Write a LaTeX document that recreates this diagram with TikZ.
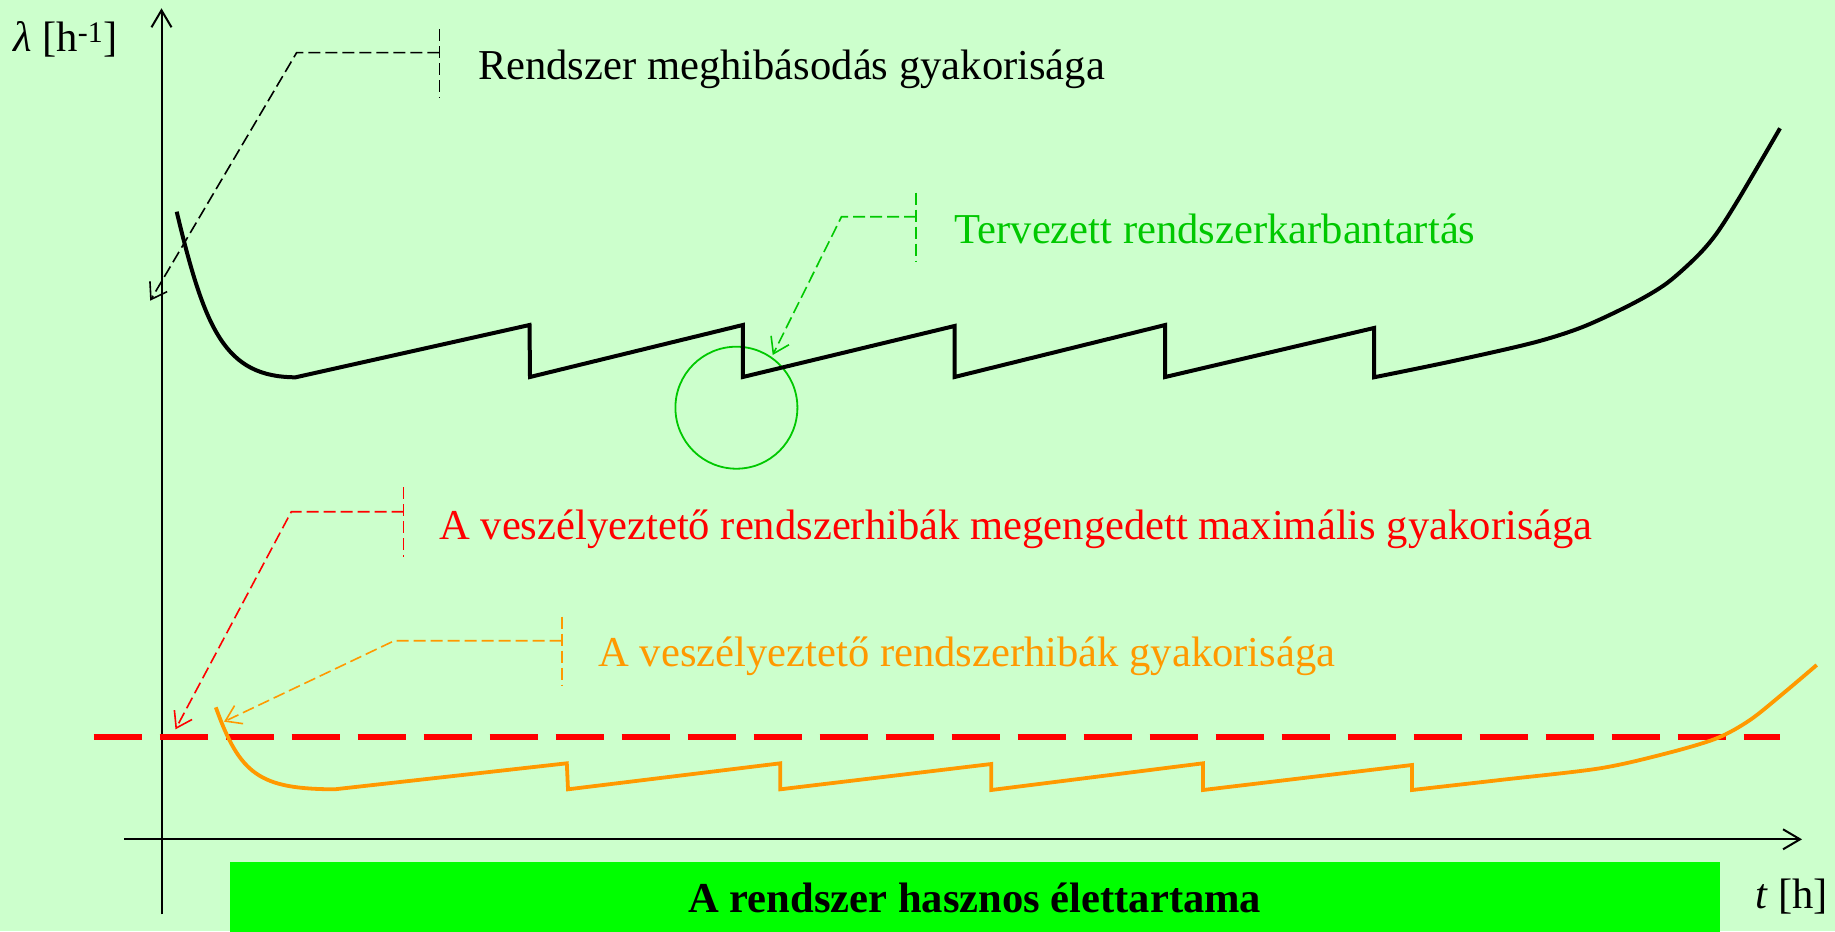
\documentclass[tikz,border=0pt]{standalone}
\usepackage{fontspec}
\setmainfont{Liberation Serif}
\usetikzlibrary{arrows.meta}
\definecolor{bgc}{HTML}{CCFFCC}
\definecolor{boxc}{HTML}{00FF00}
\definecolor{gc}{HTML}{00C800}
\definecolor{oc}{HTML}{FF9900}
\definecolor{rc}{HTML}{FF0000}
\begin{document}
\begin{tikzpicture}[x=1pt,y=-1pt,
  every node/.style={inner sep=0pt, outer sep=0pt, font=\fontsize{42.6}{51}\selectfont},
  lbl/.style={anchor=base west},
  leader/.style={line width=1.6pt, dash pattern=on 12pt off 5pt, line cap=butt},
  leadarrow/.style={leader, -{Straight Barb[length=15pt,width=20pt]}},
  axis/.style={line width=2pt, -{Straight Barb[length=17pt,width=20pt]}},
  blackc/.style={line width=4pt, line join=miter},
  orangec/.style={draw=oc, line width=3.8pt, line join=miter},
  redline/.style={draw=rc, line width=6pt, dash pattern=on 48pt off 18pt, line cap=butt}
]
\fill[bgc] (0,0) rectangle (1835,931);
\useasboundingbox (0,0) rectangle (1835,931);

% axes
\coordinate (yb) at (161.5,914.3);
\coordinate (yt) at (161.5,8.3);
\coordinate (xl) at (124.4,839.3);
\coordinate (xr) at (1802,839.3);
\draw[axis] (yb) -- (yt);
\draw[axis] (xl) -- (xr);
\node[lbl] (ylab) at (13.4,52) {{\itshape λ} [h\textsuperscript{-1}]};
\node[lbl] (xlab) at (1755,908) {\textit{t} [h]};

% lifetime box
\node[fill=boxc, minimum width=1490.4pt, minimum height=70pt, anchor=north west] (life) at (229.6,861.7) {};
\node[anchor=base] (lifet) at (974.8,912.7) {\textbf{A rendszer hasznos élettartama}};

% maintenance circle
\node[circle, draw=gc, line width=1.8pt, minimum size=122pt] (circ) at (736.4,407.7) {};

% black curve
\draw[blackc] (176.7,211.7) .. controls (205,330) and (225,377) .. (295.6,377.3)
  -- (529.5,325) -- (530,377) -- (742.8,325) -- (742.8,377)
  -- (954.5,326) -- (954.5,377) -- (1165.2,325) -- (1165.2,377)
  -- (1374,328) -- plot[smooth] coordinates {(1374,377.3) (1450,361.7) (1533.3,342.7) (1583.3,326.7) (1633.3,303.3) (1666.7,283.3) (1696.7,256.7) (1716.7,233.3) (1740,196.7) (1780,128.3)};

% red dashed limit
\coordinate (rl) at (93.6,736.7);
\coordinate (rr) at (1779.7,736.7);
\draw[redline] (rl) -- (rr);

% orange curve
\draw[orangec] (215.8,707.3) .. controls (240,775) and (260,789) .. (334.7,789.3)
  -- (566.8,763.3) -- (568,789.3) -- (780.3,763.3) -- (780.3,789.3)
  -- (991.3,764) -- (991.3,790) -- (1203,763.3) -- (1203,790)
  -- (1412,765) -- plot[smooth] coordinates {(1412,790) (1500,780) (1600,768.3) (1666.7,753.3) (1716.7,738.3) (1750,720) (1783.3,693.3) (1816.7,665)};

% black leader
\coordinate (bk1) at (439.3,29.3);
\coordinate (bk2) at (439.3,97.7);
\coordinate (bkh) at (439.3,52.7);
\coordinate (bkc) at (296.6,52.7);
\coordinate (bkt) at (150.2,300.7);
\draw[leader] (bk1) -- (bk2);
\draw[leadarrow] (bkh) -- (bkc) -- (bkt);
\node[lbl] (tb) at (478,80) {Rendszer meghibásodás gyakorisága};

% green leader
\coordinate (gn1) at (916,192.7);
\coordinate (gn2) at (916,261.7);
\coordinate (gnh) at (916,216.7);
\coordinate (gnc) at (841.5,216.7);
\coordinate (gnt) at (772.7,355);
\draw[leader, draw=gc] (gn1) -- (gn2);
\draw[leadarrow, draw=gc] (gnh) -- (gnc) -- (gnt);
\node[lbl, text=gc] (tg) at (954.5,243.3) {Tervezett rendszerkarbantartás};

% red leader
\coordinate (rd1) at (403.6,487.3);
\coordinate (rd2) at (403.6,556.7);
\coordinate (rdh) at (403.6,511.7);
\coordinate (rdc) at (291.3,511.7);
\coordinate (rdt) at (175.5,729.3);
\draw[leader, draw=rc] (rd1) -- (rd2);
\draw[leadarrow, draw=rc] (rdh) -- (rdc) -- (rdt);
\node[lbl, text=rc] (tr) at (439.3,539.3) {A veszélyeztető rendszerhibák megengedett maximális gyakorisága};

% orange leader
\coordinate (or1) at (561.7,616.7);
\coordinate (or2) at (561.7,686);
\coordinate (orh) at (561.7,640.7);
\coordinate (orc) at (394.4,640.7);
\coordinate (ort) at (224,721.7);
\draw[leader, draw=oc] (or1) -- (or2);
\draw[leadarrow, draw=oc] (orh) -- (orc) -- (ort);
\node[lbl, text=oc] (to) at (598.5,666.7) {A veszélyeztető rendszerhibák gyakorisága};
\end{tikzpicture}
\end{document}
